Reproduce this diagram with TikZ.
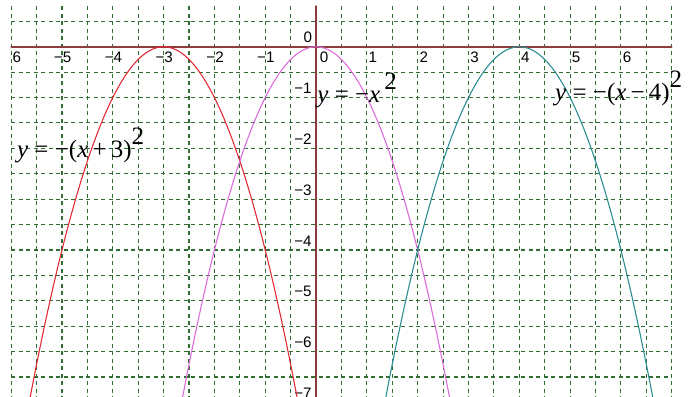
\documentclass[tikz,border=0pt]{standalone}
\usepackage{fontspec}
\setmainfont{Liberation Serif}
\newfontfamily\tickfont{Liberation Sans}
\definecolor{gridgreen}{RGB}{50,110,50}
\definecolor{axisbrown}{RGB}{140,60,60}
\definecolor{parred}{RGB}{225,40,50}
\definecolor{parpink}{RGB}{220,105,220}
\definecolor{parteal}{RGB}{40,140,145}

\begin{document}
\begin{tikzpicture}[line cap=round,line join=round,
    gridline/.style={gridgreen,line width=0.6pt,line cap=butt,dash pattern=on 2.2pt off 2pt},
    axisline/.style={axisbrown,line width=0.9pt},
    curve/.style={line width=0.6pt,smooth,samples=80},
    ticklabel/.style={font=\tickfont\fontsize{8.5}{9}\selectfont,inner sep=0pt},
    eqlabel/.style={font=\fontsize{14}{16}\selectfont,inner sep=0pt,anchor=base west}]
  \useasboundingbox (-6.22,-6.88) rectangle (7.34,0.92);

  % Grid, every half unit
  \foreach \x in {-6,-5.5,...,7} \draw[gridline] (\x,0.8)--(\x,-7.2);
  \foreach \y in {0.5,0,...,-7} \draw[gridline] (-6,\y)--(7,\y);

  % Axes
  \draw[axisline] (-6,0)--(7,0);
  \draw[axisline] (0,0.8)--(0,-7.2);

  % Tick labels
  \foreach \n in {1,...,6} \node[ticklabel,anchor=north west] (xp\n) at (\n+0.03,-0.1) {\n};
  \foreach \n in {1,...,5} \node[ticklabel,anchor=north west] (xm\n) at (-\n+0.01,-0.1) {\llap{−}\n};
  \node[ticklabel,anchor=north west] (xm6) at (-5.98,-0.1) {6};
  \foreach \n in {1,...,7} \node[ticklabel,anchor=south east] (ym\n) at (-0.08,-\n+0.07) {−\n};
  \node[ticklabel,anchor=south east] (zero1) at (-0.07,0.07) {0};
  \node[ticklabel,anchor=north west] (zero2) at (0.07,-0.1) {0};

  % The three parabolas
  \begin{scope}
    \clip (-6.22,-6.88) rectangle (7.34,0.92);
    \draw[curve,parred] plot[domain=-5.8:-0.2] (\x,{-(\x+3)^2});
    \draw[curve,parpink] plot[domain=-2.8:2.8] (\x,{-(\x)^2});
    \draw[curve,parteal] plot[domain=1.2:6.8] (\x,{-(\x-4)^2});
  \end{scope}

  % Equations
  \node[eqlabel] (eqred) at (-5.89,-2.17) {\textit{y} = −(\textit{x}\,+\,3)\raisebox{0.5em}{2}};
  \node[eqlabel] (eqpink) at (0.02,-1.09) {\textit{y} = −\textit{x}\,\raisebox{0.5em}{2}};
  \node[eqlabel] (eqteal) at (4.70,-1.05) {\textit{y} = −(\textit{x}\,−\,4)\raisebox{0.5em}{2}};
\end{tikzpicture}
\end{document}
